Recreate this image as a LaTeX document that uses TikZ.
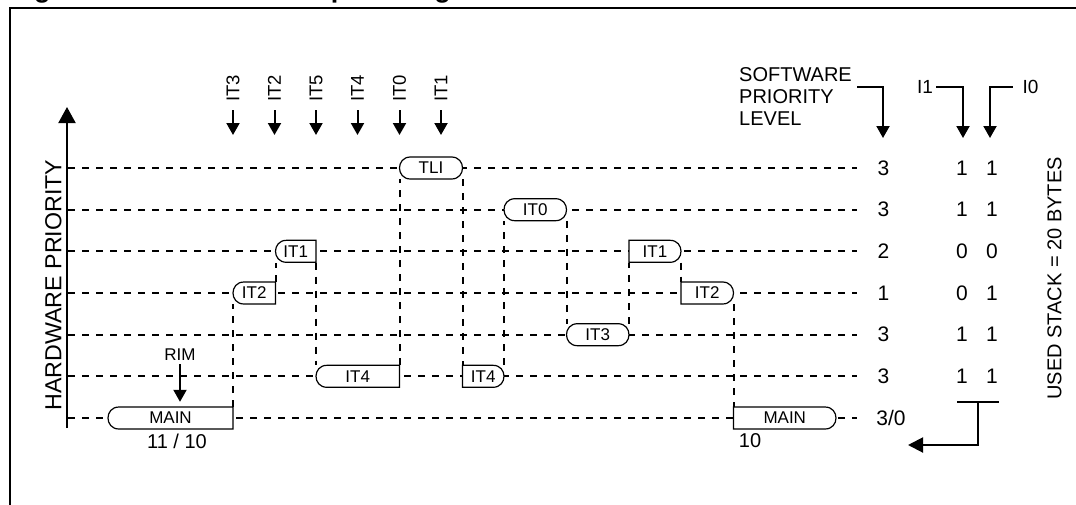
\documentclass[tikz,border=0pt]{standalone}
\usepackage{fontspec}
\setmainfont{Liberation Sans}
\usetikzlibrary{arrows.meta}
\newcommand{\myfs}[1]{\fontsize{#1}{#1}\selectfont}
% left rounded, right square
\newcommand{\boxL}[5]{%
  \filldraw[boxline] (#3,#4-11) -- (#2+11,#4-11) .. controls (#2-3.667,#4-11) and (#2-3.667,#4+11) .. (#2+11,#4+11) -- (#3,#4+11) -- cycle;
  \node[boxtext, minimum width={(#3-#2)*1pt}] (#1) at ({(#2+#3)/2},#4) {#5};}
% left square, right rounded
\newcommand{\boxR}[5]{%
  \filldraw[boxline] (#2,#4-11) -- (#3-11,#4-11) .. controls (#3+3.667,#4-11) and (#3+3.667,#4+11) .. (#3-11,#4+11) -- (#2,#4+11) -- cycle;
  \node[boxtext, minimum width={(#3-#2)*1pt}] (#1) at ({(#2+#3)/2},#4) {#5};}
% both rounded
\newcommand{\boxB}[5]{%
  \filldraw[boxline] (#2+11,#4-11) -- (#3-11,#4-11) .. controls (#3+3.667,#4-11) and (#3+3.667,#4+11) .. (#3-11,#4+11) -- (#2+11,#4+11) .. controls (#2-3.667,#4+11) and (#2-3.667,#4-11) .. (#2+11,#4-11) -- cycle;
  \node[boxtext, minimum width={(#3-#2)*1pt}] (#1) at ({(#2+#3)/2},#4) {#5};}
\begin{document}
\begin{tikzpicture}[x=1pt,y=-1pt,
  dline/.style={line width=2pt, dash pattern=on 7pt off 7pt},
  boxline/.style={line width=1.2pt, fill=white, draw=black},
  boxtext/.style={rectangle, inner sep=0pt, minimum height=22pt, font=\myfs{17}},
  arr/.style={line width=2pt, -{Triangle[width=13pt,length=12pt]}},
  bigarr/.style={line width=2pt, -{Triangle[width=17pt,length=16pt]}},
  toplab/.style={rotate=90, anchor=west, inner sep=0pt, font=\myfs{18.5}},
  num/.style={inner sep=0pt, font=\myfs{21}},
  lab/.style={inner sep=0pt, font=\myfs{19}}]
\useasboundingbox (0,0) rectangle (1076,504);
% frame and (cut) title
\draw[line width=2.2pt] (10,8) rectangle (1110,540);
\node[anchor=base west, inner sep=0pt, font=\bfseries\myfs{27}] (title) at (10,-2.7) {Figure 19. Nested interrupt management};
% hardware priority axis
\coordinate (axb) at (67,428);
\coordinate (axt) at (67,107);
\draw[bigarr] (axb) -- (axt);
\node[rotate=90, inner sep=0pt, font=\myfs{23.2}] (hw) at (53.5,285) {HARDWARE PRIORITY};
% grid rows
\foreach \y in {168,209.7,251.3,293,334.7,376.3,418}
  \draw[dline] (68,\y) -- (857,\y);
% boxes
\boxL{main1}{108}{233}{418}{MAIN}
\boxL{it2a}{233}{275.5}{293}{IT2}
\boxL{it1a}{275.5}{316}{251.3}{IT1}
\boxL{it4a}{316}{399.5}{376.3}{IT4}
\boxB{tli}{399.5}{462.5}{168}{TLI}
\boxR{it4b}{462.5}{504}{376.3}{IT4}
\boxB{it0}{504}{566.5}{209.7}{IT0}
\boxB{it3}{566.5}{629}{334.7}{IT3}
\boxR{it1b}{629}{681}{251.3}{IT1}
\boxR{it2b}{681}{733.5}{293}{IT2}
\boxR{main2}{733.5}{836}{418}{MAIN}
% vertical transitions
\draw[dline] (main1.north east) -- (main1.north east |- it2a.south);
\draw[dline] (it2a.north east) -- (it2a.north east |- it1a.south);
\draw[dline] (it1a.south east) -- (it1a.south east |- it4a.north);
\draw[dline] (it4a.north east) -- (it4a.north east |- tli.south);
\draw[dline] (tli.south east) -- (tli.south east |- it4b.north);
\draw[dline] (it4b.north east) -- (it4b.north east |- it0.south);
\draw[dline] (it0.south east) -- (it0.south east |- it3.north);
\draw[dline] (it3.north east) -- (it3.north east |- it1b.south);
\draw[dline] (it1b.south east) -- (it1b.south east |- it2b.north);
\draw[dline] (it2b.south east) -- (it2b.south east |- main2.north);
% interrupt request arrows
\foreach \x/\t/\n in {233/IT3/a, 274.5/IT2/b, 316/IT5/c, 357.5/IT4/d, 399.5/IT0/e, 441/IT1/f} {
  \node[toplab] (lab\n) at (\x,102) {\t};
  \coordinate (tip\n) at (\x,135);
  \draw[arr, shorten <=8pt] (lab\n.west) -- (tip\n);
}
% RIM
\node[inner sep=0pt, font=\myfs{17}] (rim) at (180,355) {RIM};
\draw[arr, shorten <=3pt, shorten >=5pt] (rim.south) -- (rim.south |- main1.north);
\node[inner sep=0pt, font=\myfs{20}] (cyc1) at (177,441) {11 / 10};
\node[inner sep=0pt, font=\myfs{20}] (cyc2) at (750,441) {10};
% software priority header
\node[anchor=base west, inner sep=0pt, font=\myfs{20}] (sw1) at (739,81) {SOFTWARE};
\node[anchor=base west, inner sep=0pt, font=\myfs{20}] (sw2) at (739,103) {PRIORITY};
\node[anchor=base west, inner sep=0pt, font=\myfs{20}] (sw3) at (739,125) {LEVEL};
\coordinate (sws) at (857,86.7);
\coordinate (swt) at (883,138);
\draw[arr] (sws) -| (swt);
\node[lab] (i1lab) at (925,86.7) {I1};
\coordinate (i1t) at (963,138);
\draw[arr, shorten <=3pt] (i1lab.east) -| (i1t);
\node[lab] (i0lab) at (1030.5,86.7) {I0};
\coordinate (i0t) at (990,138);
\draw[arr, shorten <=9.6pt] (i0lab.west) -| (i0t);
% numbers
\foreach \y/\s/\a/\b/\k in {168/3/1/1/1, 209.7/3/1/1/2, 251.3/2/0/0/3, 293/1/0/1/4, 334.7/3/1/1/5, 376.3/3/1/1/6} {
  \node[num] (sp\k) at (883.5,\y) {\s};
  \node[num] (ia\k) at (962,\y) {\a};
  \node[num] (ib\k) at (992,\y) {\b};
}
\node[num] (sp7) at (891,418) {3/0};
% stack bracket
\coordinate (bl) at (957,401.7);
\coordinate (br) at (999,401.7);
\coordinate (bm) at (978,401.7);
\coordinate (bt) at (908,445);
\draw[line width=2pt] (bl) -- (br);
\draw[line width=2pt, -{Triangle[width=15pt,length=15pt]}] (bm) |- (bt);
\node[rotate=90, inner sep=0pt, font=\myfs{20}] (us) at (1054.5,278.5) {USED STACK = 20 BYTES};
\end{tikzpicture}
\end{document}
